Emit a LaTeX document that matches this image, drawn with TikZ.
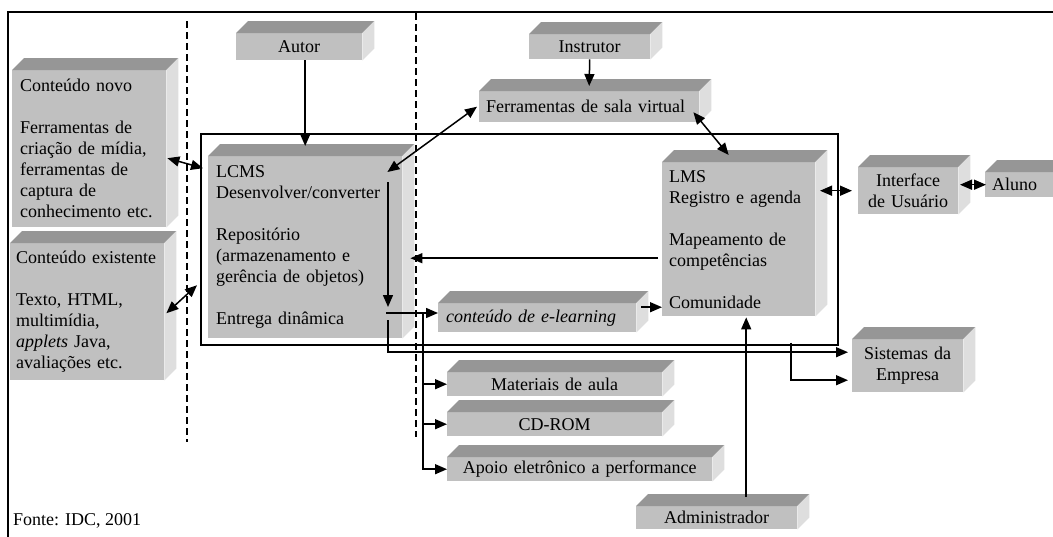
\documentclass[tikz,border=0pt]{standalone}
\usepackage{fontspec}
\setmainfont{Liberation Serif}
\usetikzlibrary{arrows.meta,calc}
\definecolor{frontgray}{RGB}{192,192,192}
\definecolor{topgray}{RGB}{150,150,150}
\definecolor{sidegray}{RGB}{222,222,222}
\newcommand{\cubefaces}[1]{%
  \fill[topgray] (#1.north west) -- ++(12pt,12pt) -- ([shift={(12pt,12pt)}]#1.north east) -- (#1.north east) -- cycle;
  \fill[sidegray] (#1.north east) -- ++(12pt,12pt) -- ([shift={(12pt,12pt)}]#1.south east) -- (#1.south east) -- cycle;}
\tikzset{
  cube/.style={fill=frontgray, anchor=north west, inner ysep=0pt},
  lcube/.style={cube, align=left, inner xsep=7pt},
  ccube/.style={cube, align=center, inner xsep=0pt},
  arr/.style={-{Triangle[length=12pt,width=10pt]}, line width=1.5pt},
  dbl/.style={{Triangle[length=12pt,width=10pt]}-{Triangle[length=12pt,width=10pt]}, line width=1.5pt},
  divider/.style={line width=1.3pt, dash pattern=on 7pt off 4pt}
}

\begin{document}
\begin{tikzpicture}[x=1pt, y=-1pt, font=\fontsize{18}{21}\selectfont]
\useasboundingbox (0,0) rectangle (1053,536);
\clip (0,0) rectangle (1053,536);
\draw[line width=1.6pt] (8,560) |- (1070,12);
\draw[divider] (187,21) -- (187,442);
\draw[divider] (416,13) -- (416,437);
\node[draw, line width=1.5pt, anchor=north west, inner sep=0pt, minimum width=637pt, minimum height=211pt] (sys) at (200,133) {};

\node[lcube, inner xsep=8pt, text width=138pt, minimum height=157pt] (novo) at (12,70)
  {Conteúdo novo\\[21pt]Ferramentas de\\criação de mídia,\\ferramentas de\\captura de\\conhecimento etc.};
\node[lcube, inner xsep=6pt, text width=142pt, minimum height=137pt] (exist) at (10,243)
  {Conteúdo existente\\[21pt]Texto, HTML,\\multimídia,\\\textit{applets} Java,\\avaliações etc.};
\node[ccube, text width=126pt, minimum height=27pt] (autor) at (236,33) {Autor};
\node[ccube, text width=121pt, minimum height=25pt] (instr) at (529,34) {Instrutor};
\node[lcube, text width=206pt, minimum height=31pt] (ferr) at (479,91) {Ferramentas de sala virtual};
\node[lcube, inner xsep=8pt, text width=178pt, minimum height=182pt] (lcms) at (208,156)
  {LCMS\\Desenvolver/converter\\[21pt]Repositório\\(armazenamento e\\gerência de objetos)\\[21pt]Entrega dinâmica};
\node[lcube, text width=139pt, minimum height=154pt] (lms) at (662,162)
  {LMS\\Registro e agenda\\[21pt]Mapeamento de\\competências\\[21pt]Comunidade};
\node[ccube, text width=100pt, minimum height=47pt] (iface) at (858,167) {Interface\\de Usuário};
\node[lcube, text width=71pt, minimum height=25pt] (aluno) at (985,172) {Aluno};
\node[lcube, inner xsep=8pt, text width=182pt, minimum height=29pt] (elearn) at (438,303) {\textit{conteúdo de e-learning}};
\node[ccube, text width=111pt, minimum height=53pt] (sist) at (852,339) {Sistemas da\\Empresa};
\node[ccube, text width=215pt, minimum height=24pt] (mat) at (447,372) {Materiais de aula};
\node[ccube, text width=215pt, minimum height=24pt] (cdrom) at (447,412) {CD-ROM};
\node[ccube, text width=265pt, minimum height=24pt] (apoio) at (447,457) {Apoio eletrônico a performance};
\node[ccube, text width=161pt, minimum height=23pt] (admin) at (636,506) {Administrador};
\node[anchor=base west, inner sep=0pt] (src) at (13,525) {Fonte: IDC, 2001};

\foreach \b in {novo,exist,autor,instr,ferr,lcms,lms,iface,aluno,elearn,sist,mat,cdrom,apoio,admin}
  \cubefaces{\b};

\coordinate (dstart) at (388,182);
\coordinate (dend) at (388,307);
\coordinate (split) at (386,313);
\coordinate (branch) at (423,313);
\coordinate (exit) at (388,320);

\draw[dbl] ([shift={(1pt,-9.5pt)}]novo.east) -- ([shift={(-5pt,79pt)}]lcms.west);
\draw[dbl] ([shift={(2pt,-1.5pt)}]exist.east) -- ([shift={(-11pt,-38pt)}]lcms.west);
\draw[dbl] ([xshift=-2pt]ferr.west) -- ([shift={(-15pt,-16pt)}]lcms.north east);
\draw[dbl] ([shift={(-6pt,-5.5pt)}]ferr.east) -- ([shift={(-10pt,7pt)}]lms.north);
\draw[arr] (autor.south -| lcms.north) -- ([yshift=10pt]lcms.north);
\draw[arr] (instr.south) -- ([yshift=5pt]ferr.north);
\draw[arr] ([shift={(-4pt,-19pt)}]lms.west) -- ([shift={(8pt,-11pt)}]lcms.east);
\draw[dbl] ([xshift=-38pt]iface.west) -- ([xshift=-6pt]iface.west);
\draw[dbl] ([xshift=-25pt]aluno.west) -- ([xshift=1pt]aluno.west);
\draw[arr] (dstart) -- (dend);
\draw[arr] (split) -- (split -| elearn.west);
\draw[arr] (branch) |- (mat.west);
\draw[arr] (branch) |- (cdrom.west);
\draw[arr] (branch) |- (apoio.west);
\draw[arr] (exit) |- ([shift={(-4pt,13.5pt)}]sist.west);
\draw[arr] ([xshift=271.5pt,yshift=3pt]sys.south) |- ([shift={(-4pt,-14.5pt)}]sist.west);
\draw[arr] ([shift={(5pt,10.5pt)}]elearn.east) -- ([yshift=-68pt]lms.west);
\draw[arr] ([shift={(29.5pt,9pt)}]admin.north) -- ([shift={(7.5pt,-1pt)}]lms.south);
\end{tikzpicture}
\end{document}
